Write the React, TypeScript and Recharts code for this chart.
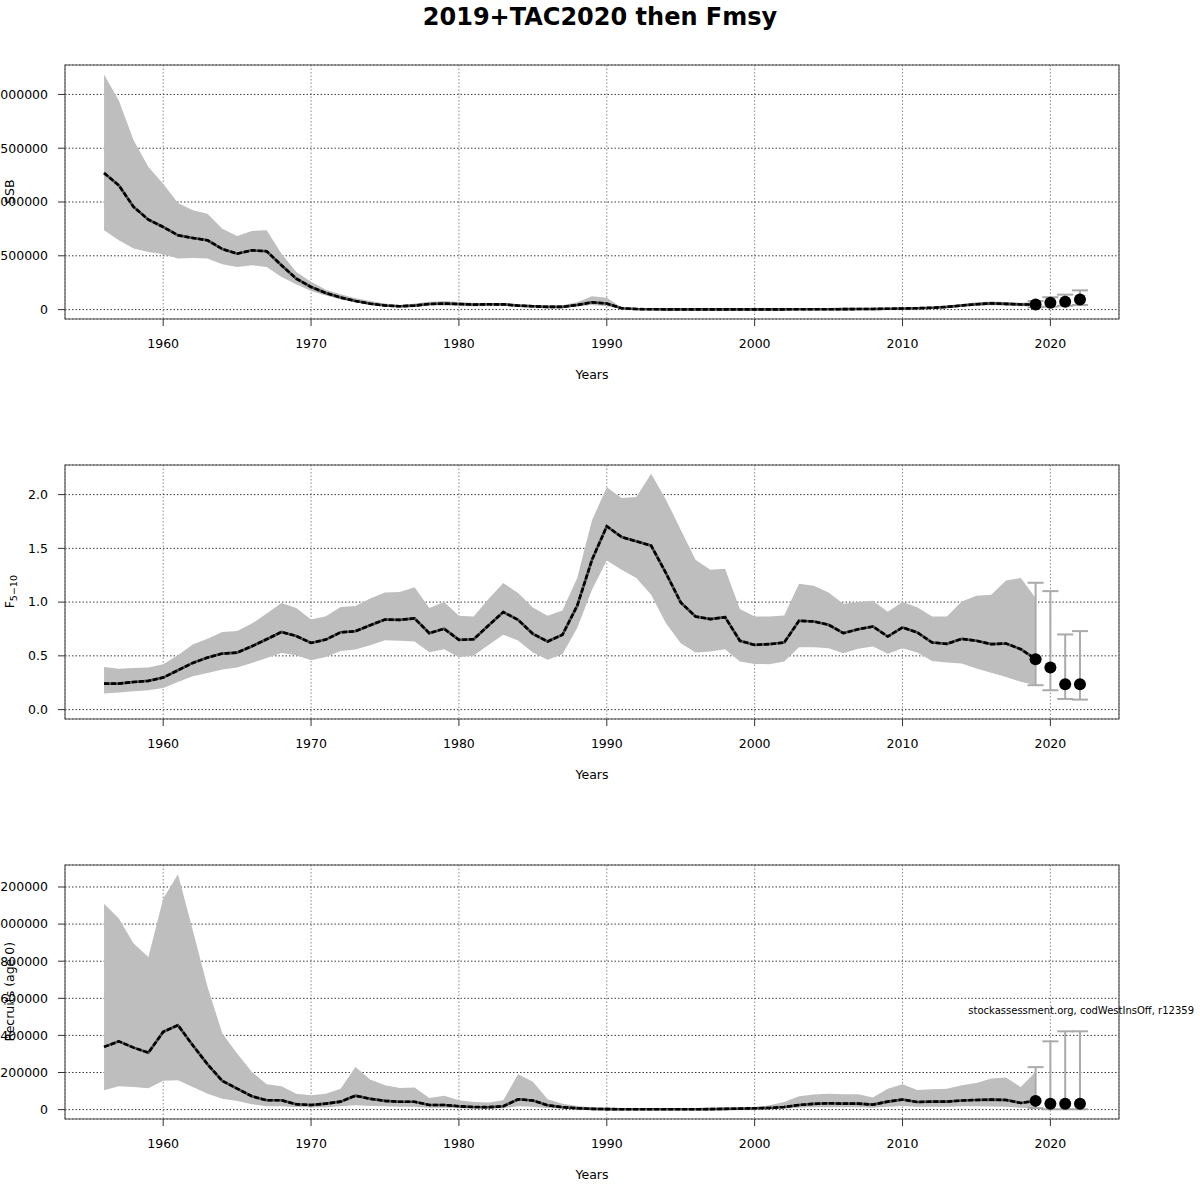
import React from 'react';
import {
  ComposedChart, Area, Line, Scatter, XAxis, YAxis, CartesianGrid, ErrorBar, ReferenceArea,
} from 'recharts';

const FONT = '"DejaVu Sans", sans-serif';
const FS = 12.5;

const years = [
  1956, 1957, 1958, 1959, 1960, 1961, 1962, 1963, 1964, 1965,
  1966, 1967, 1968, 1969, 1970, 1971, 1972, 1973, 1974, 1975,
  1976, 1977, 1978, 1979, 1980, 1981, 1982, 1983, 1984, 1985,
  1986, 1987, 1988, 1989, 1990, 1991, 1992, 1993, 1994, 1995,
  1996, 1997, 1998, 1999, 2000, 2001, 2002, 2003, 2004, 2005,
  2006, 2007, 2008, 2009, 2010, 2011, 2012, 2013, 2014, 2015,
  2016, 2017, 2018, 2019,
];
const xTicks = [1960, 1970, 1980, 1990, 2000, 2010, 2020];
const forecastYears = [2019, 2020, 2021, 2022];

// SSB
const ssbMed = [
  1269000, 1155000, 954000, 836000, 768000, 690000, 666000, 644000, 563000, 520000,
  551000, 542000, 412000, 288000, 210000, 154000, 112000, 80000, 55000, 38000,
  31000, 37000, 52000, 56000, 52000, 46000, 49000, 49000, 37000, 31000,
  25000, 25000, 43000, 68000, 56000, 12000, 5000, 3000, 2500, 2000,
  2000, 2000, 2000, 2000, 2000, 2500, 2500, 3000, 3000, 3500,
  4000, 5000, 6000, 8000, 10000, 13000, 17000, 25000, 38000, 50000,
  58000, 53000, 48000, 48000,
];
const ssbLow = [
  737000, 644000, 567000, 536000, 514000, 474000, 480000, 474000, 421000, 396000,
  412000, 396000, 303000, 235000, 173000, 130000, 95000, 68000, 45000, 30000,
  24000, 27000, 37000, 37000, 34000, 31000, 34000, 34000, 25000, 22000,
  15000, 15000, 28000, 43000, 31000, 6000, 3000, 1500, 1200, 1000,
  1000, 1000, 1000, 1000, 1000, 1200, 1200, 1500, 1500, 2000,
  2200, 2800, 3500, 5000, 6000, 8000, 11000, 16000, 26000, 35000,
  40000, 37000, 32000, 28000,
];
const ssbHigh = [
  2186000, 1944000, 1573000, 1325000, 1170000, 991000, 923000, 892000, 752000, 684000,
  731000, 737000, 520000, 350000, 260000, 185000, 142000, 105000, 80000, 56000,
  40000, 56000, 74000, 80000, 71000, 62000, 59000, 62000, 52000, 43000,
  37000, 40000, 68000, 123000, 111000, 19000, 8000, 5000, 4500, 4000,
  4000, 4000, 4000, 4000, 4000, 4500, 4500, 5000, 5500, 6000,
  7000, 8000, 10000, 12000, 15000, 19000, 25000, 35000, 52000, 68000,
  76000, 70000, 64000, 71000,
];
const ssbFcMed = [48000, 63000, 74000, 93000];
const ssbFcLow = [20000, 27000, 36000, 43000];
const ssbFcHigh = [80000, 115000, 139000, 179000];

// F 5-10
const fMed = [
  0.242, 0.242, 0.257, 0.267, 0.298, 0.366, 0.434, 0.484, 0.521, 0.530,
  0.589, 0.654, 0.722, 0.685, 0.620, 0.651, 0.719, 0.729, 0.785, 0.837,
  0.835, 0.848, 0.711, 0.752, 0.649, 0.655, 0.783, 0.907, 0.835, 0.705,
  0.634, 0.696, 0.966, 1.394, 1.705, 1.606, 1.565, 1.525, 1.270, 0.997,
  0.866, 0.842, 0.860, 0.640, 0.602, 0.609, 0.624, 0.826, 0.820, 0.789,
  0.711, 0.748, 0.773, 0.680, 0.764, 0.717, 0.624, 0.612, 0.658, 0.640,
  0.609, 0.615, 0.562, 0.470,
];
const fLow = [
  0.149, 0.158, 0.171, 0.180, 0.202, 0.257, 0.310, 0.341, 0.372, 0.391,
  0.434, 0.481, 0.527, 0.505, 0.459, 0.490, 0.546, 0.558, 0.598, 0.645,
  0.640, 0.634, 0.534, 0.562, 0.488, 0.503, 0.602, 0.696, 0.643, 0.531,
  0.463, 0.516, 0.758, 1.115, 1.388, 1.301, 1.224, 1.068, 0.804, 0.618,
  0.531, 0.540, 0.562, 0.447, 0.425, 0.422, 0.447, 0.581, 0.581, 0.571,
  0.525, 0.565, 0.587, 0.519, 0.571, 0.531, 0.453, 0.438, 0.429, 0.382,
  0.342, 0.304, 0.258, 0.227,
];
const fHigh = [
  0.397, 0.381, 0.388, 0.391, 0.422, 0.505, 0.605, 0.660, 0.722, 0.732,
  0.800, 0.893, 0.992, 0.946, 0.837, 0.868, 0.955, 0.964, 1.033, 1.090,
  1.093, 1.137, 0.944, 1.000, 0.873, 0.866, 1.028, 1.177, 1.084, 0.950,
  0.873, 0.922, 1.224, 1.761, 2.068, 1.969, 1.978, 2.195, 1.953, 1.674,
  1.394, 1.301, 1.311, 0.935, 0.866, 0.866, 0.876, 1.171, 1.152, 1.090,
  0.984, 1.000, 1.012, 0.910, 1.000, 0.953, 0.866, 0.866, 1.006, 1.059,
  1.068, 1.202, 1.224, 1.037,
];
const fFcMed = [0.468, 0.391, 0.236, 0.236];
const fFcLow = [0.227, 0.180, 0.099, 0.093];
const fFcHigh = [1.180, 1.102, 0.699, 0.730];

// Recruits (age 0)
const recMed = [
  338000, 368000, 334000, 307000, 419000, 455000, 347000, 244000, 155000, 113000,
  72000, 50000, 50000, 29000, 25000, 32000, 43000, 75000, 58000, 47000,
  42000, 42000, 25000, 25000, 18000, 14000, 13000, 18000, 56000, 49000,
  23000, 13000, 7000, 4000, 2500, 2000, 1500, 1500, 1500, 1500,
  2000, 2500, 4000, 5000, 7000, 9000, 14000, 25000, 31000, 34000,
  32000, 32000, 27000, 43000, 54000, 41000, 43000, 43000, 49000, 52000,
  54000, 52000, 36000, 47000,
];
const recLow = [
  104000, 126000, 122000, 115000, 155000, 158000, 122000, 86000, 59000, 47000,
  29000, 18000, 18000, 14000, 11000, 13000, 18000, 23000, 20000, 18000,
  16000, 16000, 10000, 10000, 7000, 5000, 5000, 7000, 18000, 15000,
  8000, 5000, 2500, 1500, 1000, 700, 500, 500, 500, 500,
  700, 1000, 1500, 2000, 3000, 4000, 6000, 10000, 12000, 13000,
  12000, 12000, 10000, 16000, 20000, 15000, 16000, 16000, 18000, 18000,
  17000, 15000, 10000, 8000,
];
const recHigh = [
  1110000, 1030000, 895000, 823000, 1137000, 1269000, 967000, 661000, 410000, 302000,
  203000, 137000, 126000, 86000, 77000, 86000, 113000, 230000, 162000, 131000,
  117000, 119000, 63000, 74000, 50000, 41000, 38000, 50000, 191000, 150000,
  56000, 32000, 20000, 11000, 6000, 4500, 3500, 3500, 3500, 3500,
  4500, 5500, 7000, 9000, 14000, 23000, 41000, 72000, 81000, 86000,
  83000, 83000, 65000, 113000, 137000, 105000, 110000, 112000, 131000, 144000,
  168000, 173000, 122000, 204000,
];
const recFcMed = [47000, 32000, 32000, 32000];
const recFcLow = [8000, 2000, 2000, 2000];
const recFcHigh = [229000, 368000, 422000, 422000];

const ssbTicks = [0, 500000, 1000000, 1500000, 2000000];
const fTicks = [0, 0.5, 1, 1.5, 2];
const fTickLabels = ['0.0', '0.5', '1.0', '1.5', '2.0'];
const recTicks = [0, 200000, 400000, 600000, 800000, 1000000, 1200000];

const X_DOMAIN: [number, number] = [1953.36, 2024.64];

function buildRows(med: number[], low: number[], high: number[]) {
  return years.map((yr, i) => ({ year: yr, med: med[i], band: [low[i], high[i]] }));
}
function buildFc(med: number[], low: number[], high: number[]) {
  return forecastYears.map((yr, i) => ({ year: yr, med: med[i], err: [med[i] - low[i], high[i] - med[i]] }));
}

const XTick = (props: any) => {
  const { x, y, payload } = props;
  return (
    <text x={x} y={y + 20} textAnchor="middle" fontSize={FS} fontFamily={FONT} fill="#000">
      {payload.value}
    </text>
  );
};

const makeYTick = (labels?: string[], ticks?: number[]) => (props: any) => {
  const { x, y, payload } = props;
  let txt = String(payload.value);
  if (labels && ticks) {
    const idx = ticks.indexOf(payload.value);
    if (idx >= 0) txt = labels[idx];
  }
  return (
    <text x={x - 8} y={y} dy={4.4} textAnchor="end" fontSize={FS} fontFamily={FONT} fill="#000">
      {txt}
    </text>
  );
};

const Dot6 = (props: any) => <circle cx={props.cx} cy={props.cy} r={6} fill="#000" />;

function Panel(props: {
  top: number; rows: any[]; fc: any[]; yTicks: number[]; yDomain: [number, number];
  yLabel: React.ReactNode; yTick: any;
}) {
  const { top, rows, fc, yTicks, yDomain, yLabel, yTick } = props;
  return (
    <div style={{ position: 'absolute', left: 0, top, width: 1200, height: 400 }}>
      <ComposedChart width={1200} height={400} data={rows} margin={{ top: 65, right: 81, bottom: 0, left: 0 }}>
        <CartesianGrid horizontal={false} stroke="#8a8a8a" strokeDasharray="1.5 2" />
        <CartesianGrid vertical={false} stroke="#3a3a3a" strokeDasharray="1.5 2" />
        <XAxis
          dataKey="year" type="number" domain={X_DOMAIN} ticks={xTicks} allowDataOverflow interval={0}
          height={81} tickSize={7} axisLine={false} tickLine={{ stroke: '#333' }} tick={XTick}
          label={{
            content: () => (
              <text x={592} y={378.5} textAnchor="middle" fontSize={FS} fontFamily={FONT} fill="#000">Years</text>
            ),
          }}
        />
        <YAxis
          type="number" domain={yDomain} ticks={yTicks} allowDataOverflow interval={0}
          width={65} tickSize={7} axisLine={false} tickLine={{ stroke: '#333' }} tick={yTick}
          label={{ content: () => yLabel }}
        />
        <Area dataKey="band" fill="#bebebe" fillOpacity={1} stroke="none" isAnimationActive={false} dot={false} activeDot={false} />
        <Line dataKey="med" stroke="#505050" strokeWidth={2.6} dot={false} activeDot={false} isAnimationActive={false} />
        <Line dataKey="med" stroke="#000" strokeWidth={2.6} strokeDasharray="5 2" dot={false} activeDot={false} isAnimationActive={false} />
        <Scatter data={fc} dataKey="med" shape={Dot6} isAnimationActive={false}>
          <ErrorBar dataKey="err" direction="y" width={8} strokeWidth={2} stroke="#aaaaaa" />
        </Scatter>
        <ReferenceArea
          x1={X_DOMAIN[0]} x2={X_DOMAIN[1]} y1={yDomain[0]} y2={yDomain[1]}
          fill="none" fillOpacity={0} stroke="#555" strokeWidth={1.2} ifOverflow="visible"
        />
      </ComposedChart>
    </div>
  );
}

const rotLabel = (y: number, content: React.ReactNode) => (
  <text x={14} y={y} transform={`rotate(-90 14 ${y})`} textAnchor="middle" fontSize={FS} fontFamily={FONT} fill="#000">
    {content}
  </text>
);

export default function App() {
  const ssbRows = buildRows(ssbMed, ssbLow, ssbHigh);
  const fRows = buildRows(fMed, fLow, fHigh);
  const recRows = buildRows(recMed, recLow, recHigh);
  return (
    <div style={{ position: 'absolute', left: 0, top: 0, width: 1200, height: 1200, background: '#fff', overflow: 'hidden' }}>
      <Panel
        top={0} rows={ssbRows} fc={buildFc(ssbFcMed, ssbFcLow, ssbFcHigh)}
        yTicks={ssbTicks} yDomain={[-87400, 2273500]} yTick={makeYTick()}
        yLabel={rotLabel(191.7, 'SSB')}
      />
      <Panel
        top={400} rows={fRows} fc={buildFc(fFcMed, fFcLow, fFcHigh)}
        yTicks={fTicks} yDomain={[-0.0875, 2.2754]} yTick={makeYTick(fTickLabels, fTicks)}
        yLabel={rotLabel(191.7, (
          <>
            <tspan>F</tspan>
            <tspan fontSize={9.5} dy={3}>5−10</tspan>
          </>
        ))}
      />
      <Panel
        top={800} rows={recRows} fc={buildFc(recFcMed, recFcLow, recFcHigh)}
        yTicks={recTicks} yDomain={[-50700, 1318600]} yTick={makeYTick()}
        yLabel={rotLabel(191.7, 'Recruits (age 0)')}
      />
      <svg width={1200} height={1200} style={{ position: 'absolute', left: 0, top: 0, pointerEvents: 'none' }}>
        <text x={600} y={24.5} textAnchor="middle" fontSize={24} fontWeight="bold" fontFamily={FONT} fill="#000">
          2019+TAC2020 then Fmsy
        </text>
        <text x={1194} y={1013.5} textAnchor="end" fontSize={10} fontFamily={FONT} fill="#000">
          stockassessment.org, codWestInsOff, r12359
        </text>
      </svg>
    </div>
  );
}
